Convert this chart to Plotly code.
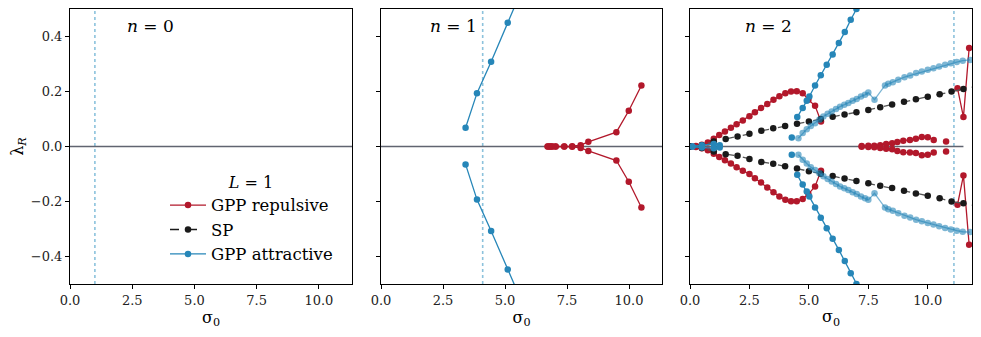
import plotly.graph_objects as go

RED = "#b2182b"
BLUE = "#2686b8"
LIGHT_BLUE = "rgba(38,134,184,0.6)"
BLACK = "#1a1a1a"
FONT = "DejaVu Serif"

# zero reference line and dotted sigma markers (one per panel)
zero_x = [0.0, 11.5]
zero_y = [0.0, 0.0]
vline_x = [1.0, 4.1, 11.1]
panel_labels = ["<i>n</i> = 0", "<i>n</i> = 1", "<i>n</i> = 2"]

# ---- n = 1 ----
n1_att_x = [3.41, 3.87, 4.44, 5.11, 5.80]
n1_att_up = [0.068, 0.194, 0.308, 0.450, 0.596]
n1_att_dn = [-0.065, -0.193, -0.307, -0.447, -0.590]

n1_rep_x = [6.72, 6.81, 6.90, 7.04, 7.39, 7.71, 8.05, 8.36, 9.49, 9.99, 10.50]
n1_rep_up = [0.0, 0.0, 0.0, 0.0, 0.0, 0.001, 0.005, 0.017, 0.052, 0.130, 0.222]
n1_rep_dn = [0.0, 0.0, 0.0, 0.0, 0.0, -0.001, -0.005, -0.016, -0.051, -0.128, -0.222]

# ---- n = 2 ----
n2_rep_x = [0.0, 0.25, 0.5, 0.75, 1.0, 1.23, 1.47, 1.72, 1.96, 2.22, 2.5, 2.73,
            2.99, 3.25, 3.51, 3.76, 4.01, 4.25, 4.49, 4.74, 4.98, 5.26, 5.51]
n2_rep_up = [0.0, 0.002, 0.006, 0.015, 0.028, 0.042, 0.055, 0.068, 0.081, 0.095, 0.110, 0.125,
             0.140, 0.155, 0.170, 0.183, 0.194, 0.200, 0.201, 0.194, 0.170, 0.148, 0.091]
n2_rep_dn = [0.0, -0.002, -0.006, -0.014, -0.026, -0.038, -0.050, -0.062, -0.075, -0.088, -0.100, -0.115,
             -0.131, -0.149, -0.166, -0.182, -0.194, -0.199, -0.199, -0.191, -0.173, -0.145, -0.088]

n2_rep_small_x = [7.22, 7.5, 7.75, 8.0, 8.25, 8.5, 8.72, 8.97, 9.25, 9.5, 9.75, 10.0, 10.25]
n2_rep_small_up = [0.002, 0.003, 0.003, 0.005, 0.009, 0.012, 0.016, 0.021, 0.024, 0.028, 0.035, 0.034, 0.024]
n2_rep_small_dn = [-0.001, -0.002, -0.003, -0.005, -0.008, -0.010, -0.016, -0.021, -0.022, -0.024, -0.032, -0.030, -0.022]

n2_rep_lone_x = [10.77]
n2_rep_lone_up = [0.018]
n2_rep_lone_dn = [-0.018]

n2_rep_end_x = [11.25, 11.5, 11.74]
n2_rep_end_up = [0.212, 0.107, 0.358]
n2_rep_end_dn = [-0.212, -0.105, -0.357]

n2_sp_x = [0.0, 0.5, 1.0, 1.5, 2.0, 2.5, 3.0, 3.5, 4.0, 4.5, 5.0, 5.5,
           6.0, 6.5, 7.0, 7.5, 8.0, 8.5, 9.0, 9.5, 10.0, 10.5, 11.0, 11.5, 12.0]
n2_sp_up = [0.0, 0.005, 0.018, 0.027, 0.036, 0.046, 0.057, 0.066, 0.075, 0.083, 0.091, 0.100,
            0.108, 0.116, 0.125, 0.133, 0.143, 0.153, 0.163, 0.172, 0.181, 0.190, 0.200, 0.209, 0.218]
n2_sp_dn = [0.0, -0.005, -0.018, -0.028, -0.034, -0.045, -0.056, -0.063, -0.072, -0.080, -0.090, -0.099,
            -0.107, -0.116, -0.125, -0.134, -0.143, -0.151, -0.161, -0.171, -0.179, -0.188, -0.200, -0.206, -0.215]

n2_att_origin_x = [0.1, 0.5, 1.0, 1.25]
n2_att_origin_up = [0.0, 0.005, 0.009, 0.005]
n2_att_origin_dn = [0.0, -0.004, -0.006, -0.004]

n2_att_lone_x = [4.28]
n2_att_lone_up = [0.033]
n2_att_lone_dn = [-0.030]

n2_att_x = [4.51, 4.74, 4.91, 5.02, 5.26, 5.5, 5.75, 6.0, 6.26, 6.51, 6.76, 7.0, 7.25]
n2_att_up = [0.107, 0.140, 0.166, 0.182, 0.222, 0.259, 0.297, 0.335, 0.376, 0.416, 0.461, 0.500, 0.540]
n2_att_dn = [-0.103, -0.138, -0.164, -0.182, -0.222, -0.259, -0.297, -0.335, -0.376, -0.416, -0.461, -0.500, -0.540]

n2_att2_x = [4.56, 4.74, 4.91, 5.08, 5.26, 5.44, 5.61, 5.79, 5.96, 6.14, 6.31, 6.49, 6.66, 6.84,
             7.01, 7.19, 7.36, 7.5, 7.76, 8.2, 8.34, 8.53, 8.76, 9.02, 9.26, 9.51, 9.75, 10.0,
             10.24, 10.48, 10.73, 10.97, 11.22, 11.47, 11.78]
n2_att2_up = [0.030, 0.049, 0.063, 0.075, 0.085, 0.097, 0.109, 0.119, 0.127, 0.136, 0.145, 0.152, 0.158, 0.166,
              0.173, 0.182, 0.188, 0.196, 0.170, 0.222, 0.228, 0.234, 0.243, 0.252, 0.258, 0.267, 0.273, 0.279,
              0.285, 0.291, 0.297, 0.303, 0.307, 0.312, 0.315]
n2_att2_dn = [-0.030, -0.048, -0.062, -0.075, -0.085, -0.097, -0.108, -0.118, -0.127, -0.136, -0.145, -0.152, -0.158, -0.166,
              -0.173, -0.182, -0.188, -0.194, -0.170, -0.222, -0.228, -0.234, -0.243, -0.252, -0.258, -0.266, -0.272, -0.278,
              -0.284, -0.290, -0.296, -0.302, -0.306, -0.310, -0.311]

# page is 981 x 337 but the html body has an 8px margin, so the figure
# is drawn 16px smaller and all target pixel positions are shifted by 8
PAGE_OFF = 8
W, H = 981 - 2 * PAGE_OFF, 337 - 2 * PAGE_OFF
panel_px = [(70, 352), (381, 662), (690, 972)]
x_ranges = [[0, 11.33], [0, 11.33], [0, 11.86]]
y_top, y_bot = 9, 284


def fx(px):
    return (px - PAGE_OFF) / W


def fy(py):
    return 1 - (py - PAGE_OFF) / H


fig = go.Figure()


def add_line(x, y, color, panel, dash="solid", name=None, show=False, rank=None):
    ax = "" if panel == 1 else str(panel)
    fig.add_trace(go.Scatter(
        x=x, y=y, mode="lines+markers",
        line=dict(color=color, width=1.3, dash=dash),
        marker=dict(color=color, size=6.5),
        name=name, showlegend=show, legendrank=rank or 1000,
        xaxis="x" + ax, yaxis="y" + ax,
    ))


# zero line in every panel
for p in (1, 2, 3):
    ax = "" if p == 1 else str(p)
    fig.add_trace(go.Scatter(x=zero_x, y=zero_y, mode="lines",
                             line=dict(color="#606470", width=1.5),
                             showlegend=False, hoverinfo="skip",
                             xaxis="x" + ax, yaxis="y" + ax))

# legend entries (empty, panel 1)
add_line([None], [None], RED, 1, name="GPP repulsive", show=True, rank=1)
add_line([None], [None], BLACK, 1, dash="dash", name="SP", show=True, rank=2)
add_line([None], [None], BLUE, 1, name="GPP attractive", show=True, rank=3)

# n = 1
add_line(n1_rep_x, n1_rep_up, RED, 2)
add_line(n1_rep_x, n1_rep_dn, RED, 2)
add_line(n1_att_x, n1_att_up, BLUE, 2)
add_line(n1_att_x, n1_att_dn, BLUE, 2)

# n = 2
for xs, up, dn in [(n2_rep_x, n2_rep_up, n2_rep_dn),
                   (n2_rep_small_x, n2_rep_small_up, n2_rep_small_dn),
                   (n2_rep_lone_x, n2_rep_lone_up, n2_rep_lone_dn),
                   (n2_rep_end_x, n2_rep_end_up, n2_rep_end_dn)]:
    add_line(xs, up, RED, 3)
    add_line(xs, dn, RED, 3)

for ys in (n2_sp_up, n2_sp_dn):
    fig.add_trace(go.Scatter(x=n2_sp_x, y=ys, mode="lines+markers",
                             line=dict(color="#555555", width=1.3, dash="dash"),
                             marker=dict(color=BLACK, size=6.5), showlegend=False,
                             xaxis="x3", yaxis="y3"))

add_line(n2_att2_x, n2_att2_up, LIGHT_BLUE, 3)
add_line(n2_att2_x, n2_att2_dn, LIGHT_BLUE, 3)
for xs, up, dn in [(n2_att_origin_x, n2_att_origin_up, n2_att_origin_dn),
                   (n2_att_lone_x, n2_att_lone_up, n2_att_lone_dn),
                   (n2_att_x, n2_att_up, n2_att_dn)]:
    add_line(xs, up, BLUE, 3)
    add_line(xs, dn, BLUE, 3)

# dotted vertical lines
for i, xv in enumerate(vline_x):
    ax = "x" if i == 0 else "x" + str(i + 1)
    fig.add_shape(type="line", xref=ax, yref="paper", x0=xv, x1=xv,
                  y0=fy(y_bot), y1=fy(y_top),
                  line=dict(color="#8cc2dc", width=1.6, dash="dot"), layer="below")

# panel labels
label_px = [125, 428, 743]
for i, txt in enumerate(panel_labels):
    fig.add_annotation(text=txt, xref="paper", yref="paper",
                       x=fx(label_px[i]), y=fy(26), xanchor="left", yanchor="middle",
                       showarrow=False, font=dict(family=FONT, size=17, color="black"))

axis_common = dict(showline=True, mirror=True, linecolor="black", linewidth=1,
                   ticks="outside", ticklen=4, tickcolor="black", tickwidth=1,
                   showgrid=False, zeroline=False, automargin=False,
                   tickfont=dict(family=FONT, size=13, color="#222"))

layout = dict(
    width=W, height=H, margin=dict(l=0, r=0, t=0, b=0),
    paper_bgcolor="white", plot_bgcolor="white", template="none",
    font=dict(family=FONT, color="black"),
    legend=dict(x=fx(165), y=fy(167), xanchor="left", yanchor="top",
                bgcolor="rgba(0,0,0,0)", font=dict(family=FONT, size=16.5),
                title=dict(text="<i>L</i> = 1", side="top center", font=dict(family=FONT, size=16)),
                tracegroupgap=0, itemwidth=36),
)

for i in range(3):
    suf = "" if i == 0 else str(i + 1)
    x0, x1 = panel_px[i]
    layout["xaxis" + suf] = dict(
        axis_common, domain=[fx(x0), fx(x1)], range=x_ranges[i], anchor="y" + suf,
        tickvals=[0, 2.5, 5, 7.5, 10], ticktext=["0.0", "2.5", "5.0", "7.5", "10.0"],
        title=dict(text="σ<sub>0</sub>", font=dict(family=FONT, size=16), standoff=4),
    )
    ydict = dict(
        axis_common, domain=[fy(y_bot), fy(y_top)], range=[-0.5, 0.5], anchor="x" + suf,
        tickvals=[-0.4, -0.2, 0, 0.2, 0.4],
        ticktext=["\u22120.4", "\u22120.2", "0.0", "0.2", "0.4"],
        showticklabels=(i == 0),
    )
    if i == 0:
        ydict["title"] = dict(text="λ<sub><i>R</i></sub>", font=dict(family=FONT, size=16), standoff=6)
    layout["yaxis" + suf] = ydict

fig.update_layout(**layout)

fig.write_html("out.html")
